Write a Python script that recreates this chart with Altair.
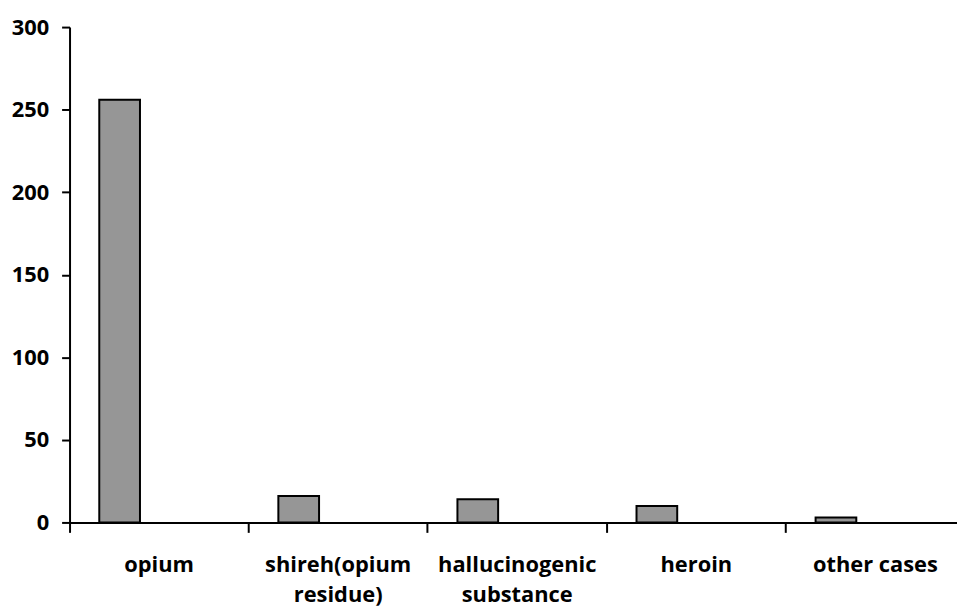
import altair as alt
import pandas as pd

categories = ["opium", "shireh(opium residue)", "hallucinogenic substance", "heroin", "other cases"]
values = [256, 16, 14, 10, 3]
y_ticks = [0, 50, 100, 150, 200, 250, 300]

df = pd.DataFrame({"category": categories, "count": values})

label_expr = (
    "datum.value == 'shireh(opium residue)' ? ['shireh(opium', 'residue)'] : "
    "datum.value == 'hallucinogenic substance' ? ['hallucinogenic', 'substance'] : datum.value"
)

font = "Open Sans"

chart = alt.Chart(df).mark_bar(
    width=41, xOffset=-39.75, color="#969696", stroke="black", strokeWidth=2
).encode(
    x=alt.X(
        "category:N",
        sort=categories,
        scale=alt.Scale(paddingInner=0, paddingOuter=0),
        axis=alt.Axis(
            title=None,
            labelAngle=0,
            labelExpr=label_expr,
            bandPosition=0,
            tickSize=10,
            tickWidth=2,
            tickColor="black",
            domainColor="black",
            domainWidth=2,
            labelPadding=22,
            labelFont=font,
            labelFontSize=22,
            labelFontWeight="bold",
            labelColor="black",
            labelLineHeight=31,
            labelBaseline="top",
        ),
    ),
    y=alt.Y(
        "count:Q",
        scale=alt.Scale(domain=[0, 300], nice=False),
        axis=alt.Axis(
            title=None,
            values=y_ticks,
            grid=False,
            tickSize=8,
            tickWidth=2,
            tickColor="black",
            domainColor="black",
            domainWidth=2,
            labelPadding=13,
            labelFont=font,
            labelFontSize=22,
            labelFontWeight="bold",
            labelColor="black",
        ),
    ),
).properties(
    width=902,
    height=499,
    autosize=alt.AutoSizeParams(type="none"),
    padding={"left": 62, "top": 17, "right": -8, "bottom": 87},
).configure_view(stroke=None)

chart.save("out.html", embed_options={"renderer": "svg", "actions": False})
